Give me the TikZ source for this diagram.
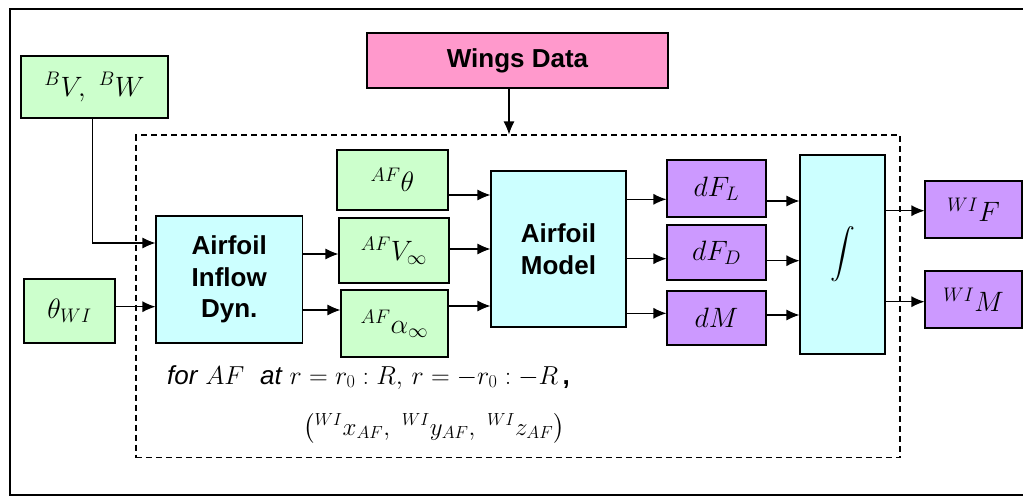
\RequirePackage{fix-cm}
\documentclass[tikz,border=0pt]{standalone}
\usepackage{amsmath}
\usepackage{fontspec}
\setsansfont{Liberation Sans}
\usetikzlibrary{arrows.meta}
\definecolor{ingreen}{RGB}{204,255,204}
\definecolor{procyan}{RGB}{204,255,255}
\definecolor{outpurple}{RGB}{204,153,255}
\definecolor{datapink}{RGB}{255,153,204}
\begin{document}
\begin{tikzpicture}[x=1pt,y=-1pt,
  box/.style={draw, line width=1.1pt, inner sep=0pt, align=center},
  mathtxt/.style={font=\fontsize{28}{30}\selectfont},
  boldtxt/.style={font=\fontsize{26}{31.5}\selectfont\sffamily\bfseries},
  arr/.style={line width=1.1pt, -{Latex[length=13pt,width=11pt]}},
  frameline/.style={line width=2pt},
  dashframe/.style={draw, dash pattern=on 6pt off 4pt, line width=1.1pt, inner sep=0pt}]
\useasboundingbox (0,0) rectangle (1023,496);
\draw[frameline] (1023,9) -- (10,9) -- (10,495) -- (1023,495);
% dashed frame
\node[dashframe, minimum width=764pt, minimum height=322.5pt] (frame) at (518,296.25) {};
% boxes
\node[box, fill=datapink, boldtxt, minimum width=301pt, minimum height=55pt] (wings) at (517.5,60.5) {Wings Data};
\node[box, fill=ingreen, mathtxt, minimum width=147pt, minimum height=62pt] (bv) at (94.5,87) {$^{B}V,\ {}^{B}W$};
\node[box, fill=ingreen, mathtxt, minimum width=91pt, minimum height=64pt] (thwi) at (69.5,311) {$\theta_{WI}$};
\node[box, fill=procyan, boldtxt, minimum width=146.5pt, minimum height=127pt] (inflow) at (229.25,279.5) {Airfoil\\Inflow\\Dyn.};
\node[box, fill=ingreen, mathtxt, minimum width=111pt, minimum height=60pt] (afth) at (392.5,180) {$^{AF}\theta$};
\node[box, fill=ingreen, mathtxt, minimum width=110pt, minimum height=65pt] (vinf) at (394,250.5) {$^{AF}V_{\infty}$};
\node[box, fill=ingreen, mathtxt, minimum width=107pt, minimum height=67pt] (ainf) at (394.5,323.5) {$^{AF}\alpha_{\infty}$};
\node[box, fill=procyan, boldtxt, minimum width=135pt, minimum height=156pt] (model) at (558.5,249) {Airfoil\\Model};
\node[box, fill=outpurple, mathtxt, minimum width=99pt, minimum height=57pt] (dfl) at (716.5,188.5) {$dF_{L}$};
\node[box, fill=outpurple, mathtxt, minimum width=99pt, minimum height=55pt] (dfd) at (716.5,252.5) {$dF_{D}$};
\node[box, fill=outpurple, mathtxt, minimum width=99pt, minimum height=54pt] (dm) at (716.5,318) {$dM$};
\node[box, fill=procyan, mathtxt, minimum width=85pt, minimum height=199pt] (integ) at (842.5,254.5) {$\displaystyle\int$};
\node[box, fill=outpurple, mathtxt, minimum width=97pt, minimum height=57pt] (wif) at (973.5,209.5) {$^{WI}F$};
\node[box, fill=outpurple, mathtxt, minimum width=97pt, minimum height=57pt] (wim) at (973.5,299.5) {$^{WI}M$};
% texts
\node[anchor=base west, inner sep=0pt, font=\fontsize{26}{30}\selectfont] (cond) at (167,384)
  {{\sffamily\itshape for} $AF$\ \ {\sffamily\itshape at} $r=r_{0}:R,\,r=-r_{0}:-R$\,{\sffamily\bfseries ,}};
\node[anchor=base west, inner sep=0pt, font=\fontsize{25}{30}\selectfont] (coords) at (303,435)
  {$\bigl({}^{WI}x_{AF},\ {}^{WI}y_{AF},\ {}^{WI}z_{AF}\bigr)$};
% connectors
\draw[arr] (wings.south -| 509,0) -- (frame.north -| 509,0);
\draw[arr] (bv.south -| 92.7,0) |- (inflow.west |- 0,243);
\draw[arr] (thwi.east |- 0,306.7) -- (inflow.west |- 0,306.7);
\draw[arr] (inflow.east |- 0,254) -- (vinf.west |- 0,254);
\draw[arr] (inflow.east |- 0,310) -- (ainf.west |- 0,310);
\draw[arr] (afth.east |- 0,195) -- (model.west |- 0,195);
\draw[arr] (vinf.east |- 0,249) -- (model.west |- 0,249);
\draw[arr] (ainf.east |- 0,306) -- (model.west |- 0,306);
\draw[arr] (model.east |- 0,199.3) -- (dfl.west |- 0,199.3);
\draw[arr] (model.east |- 0,258.7) -- (dfd.west |- 0,258.7);
\draw[arr] (model.east |- 0,313.3) -- (dm.west |- 0,313.3);
\draw[arr] (dfl.east |- 0,201) -- (integ.west |- 0,201);
\draw[arr] (dfd.east |- 0,260.7) -- (integ.west |- 0,260.7);
\draw[arr] (dm.east |- 0,315) -- (integ.west |- 0,315);
\draw[arr] (integ.east |- 0,210.7) -- (wif.west |- 0,210.7);
\draw[arr] (integ.east |- 0,301.7) -- (wim.west |- 0,301.7);
\end{tikzpicture}
\end{document}
